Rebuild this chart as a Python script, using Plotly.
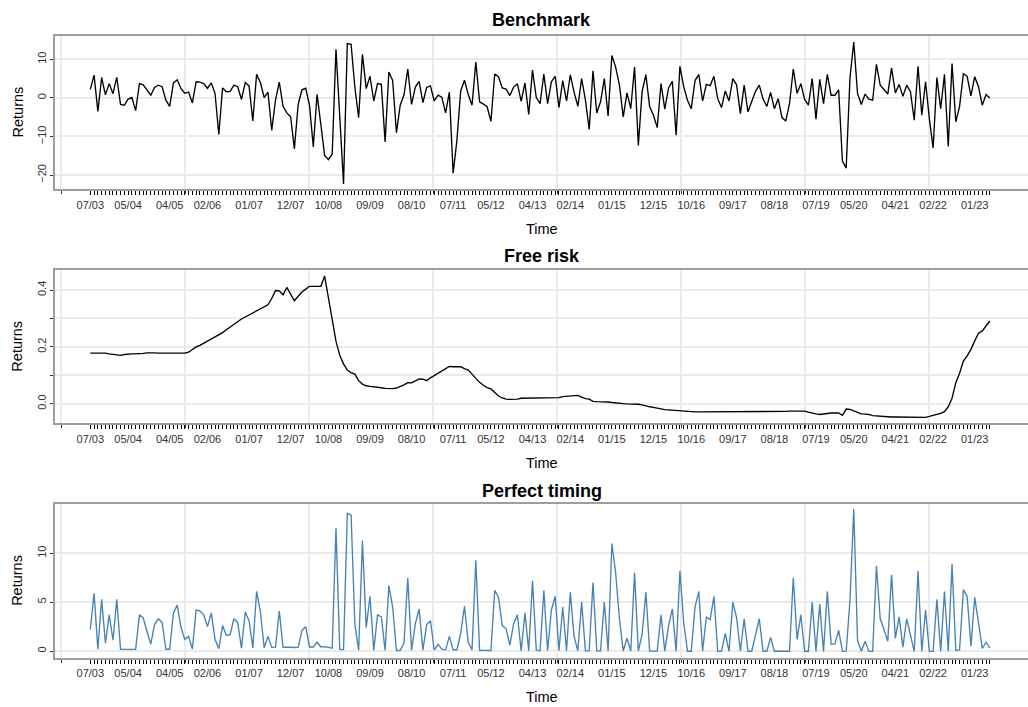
import numpy as np
import pandas as pd
import plotly.graph_objects as go

# Monthly observations, July 2003 to May 2023
months = pd.date_range("2003-07-01", periods=239, freq="MS")
obs = list(range(len(months)))

# Benchmark monthly returns (%)
benchmark = [
    2.2, 5.9, -3.5, 5.3, 0.8, 3.7, 1.1, 5.3, -1.7, -1.9,
    -0.3, 0.1, -3.3, 3.7, 3.4, 2.0, 0.7, 2.7, 3.3, 2.9,
    -0.6, -2.2, 3.9, 4.7, 2.4, 1.2, 1.5, -1.3, 4.2, 4.1,
    3.7, 2.5, 3.9, 1.2, -9.5, 2.6, 1.6, 1.7, 3.3, 2.9,
    -0.4, 4.0, 3.1, -6.0, 6.1, 4.0, 0.1, 1.5, -8.4, -0.6,
    4.1, -2.2, -3.9, -4.9, -13.2, -1.7, 2.1, 2.5, -1.9, -12.7,
    0.9, -6.9, -14.9, -16.0, -14.6, 12.6, -5.0, -22.3, 14.1, 13.9,
    2.7, -5.1, 11.3, 2.4, 5.6, -0.8, 3.7, 3.5, -11.4, 6.7,
    4.5, -9.0, -1.9, 0.8, 7.5, -1.7, 2.8, 4.3, -1.2, 2.7,
    3.1, -0.8, 0.7, 0.2, -3.9, 1.5, -19.5, -11.0, 1.8, 4.6,
    0.9, -1.9, 9.3, -1.0, -1.6, -2.3, -6.1, 6.2, 5.5, 2.6,
    2.3, 0.6, 2.8, 3.7, -0.9, 3.9, -4.3, 7.2, 0.1, -1.5,
    6.2, -1.5, 4.2, 5.6, -2.5, 4.5, -0.8, 6.0, 1.5, -2.2,
    5.0, -0.6, -8.2, 7.0, -3.9, -1.0, 5.0, -4.7, 11.0, 8.0,
    3.3, -4.9, 1.3, -2.8, 8.0, -12.3, 1.7, 6.0, -2.3, -4.5,
    -7.7, 3.7, -2.9, 2.6, 4.3, -9.7, 8.2, 2.9, -0.6, -2.8,
    4.5, 6.1, -0.8, 3.5, 3.2, 5.6, -0.2, -2.5, 1.8, -0.8,
    5.0, 3.4, -4.1, 3.3, -3.6, -1.0, 1.7, 3.3, -0.3, -2.2,
    1.4, -2.8, -0.2, -5.1, -6.0, -1.5, 7.5, 1.2, 3.7, -0.4,
    -1.9, 5.0, -5.5, 4.8, -1.5, 6.1, 0.7, 0.7, 2.1, -16.4,
    -18.2, 5.2, 14.5, 1.1, -1.7, 1.0, -0.3, -0.6, 8.7, 3.3,
    2.2, 1.0, 7.8, 1.3, 3.5, 0.4, 3.3, 1.6, -5.8, 8.2,
    -4.5, 4.2, -5.4, -13.0, 5.3, -2.8, 6.1, -12.6, 8.9, -6.2,
    -2.2, 6.3, 5.6, 0.5, 5.5, 2.9, -1.9, 0.9, 0.0,
]

# Risk-free monthly rate (%)
free_risk = [
    0.178, 0.178, 0.177, 0.179, 0.178, 0.175, 0.173, 0.171, 0.170, 0.173,
    0.175, 0.175, 0.175, 0.175, 0.177, 0.179, 0.180, 0.179, 0.178, 0.178,
    0.178, 0.178, 0.177, 0.177, 0.177, 0.178, 0.181, 0.190, 0.200, 0.205,
    0.212, 0.220, 0.228, 0.235, 0.243, 0.250, 0.260, 0.270, 0.278, 0.290,
    0.298, 0.305, 0.312, 0.318, 0.325, 0.332, 0.340, 0.348, 0.370, 0.398,
    0.397, 0.383, 0.409, 0.385, 0.362, 0.378, 0.393, 0.403, 0.413, 0.413,
    0.413, 0.413, 0.449, 0.370, 0.290, 0.220, 0.170, 0.140, 0.118, 0.109,
    0.104, 0.081, 0.069, 0.063, 0.061, 0.060, 0.059, 0.056, 0.054, 0.053,
    0.053, 0.055, 0.060, 0.066, 0.074, 0.073, 0.080, 0.087, 0.086, 0.081,
    0.091, 0.099, 0.107, 0.116, 0.121, 0.131, 0.130, 0.129, 0.130, 0.123,
    0.118, 0.104, 0.089, 0.075, 0.065, 0.056, 0.052, 0.039, 0.027, 0.020,
    0.016, 0.015, 0.015, 0.016, 0.019, 0.019, 0.019, 0.019, 0.020, 0.020,
    0.020, 0.020, 0.020, 0.020, 0.021, 0.025, 0.026, 0.027, 0.028, 0.029,
    0.023, 0.018, 0.016, 0.008, 0.007, 0.007, 0.007, 0.006, 0.004, 0.002,
    0.001, 0.000, -0.001, -0.001, -0.002, -0.002, -0.004, -0.008, -0.011, -0.013,
    -0.016, -0.020, -0.021, -0.022, -0.023, -0.025, -0.026, -0.027, -0.029, -0.029,
    -0.029, -0.029, -0.029, -0.029, -0.029, -0.029, -0.029, -0.029, -0.029, -0.029,
    -0.029, -0.029, -0.029, -0.029, -0.029, -0.029, -0.029, -0.027, -0.027, -0.027,
    -0.027, -0.027, -0.027, -0.027, -0.027, -0.026, -0.026, -0.026, -0.026, -0.026,
    -0.030, -0.034, -0.036, -0.038, -0.036, -0.033, -0.033, -0.033, -0.033, -0.041,
    -0.019, -0.020, -0.026, -0.032, -0.036, -0.037, -0.038, -0.042, -0.043, -0.046,
    -0.047, -0.047, -0.047, -0.047, -0.047, -0.047, -0.047, -0.047, -0.047, -0.047,
    -0.049, -0.048, -0.045, -0.042, -0.038, -0.034, -0.028, -0.011, 0.019, 0.074,
    0.107, 0.150, 0.168, 0.191, 0.221, 0.248, 0.256, 0.274, 0.291,
]

# Perfect market-timing returns (%)
perfect_timing = [
    2.2, 5.9, 0.177, 5.3, 0.8, 3.7, 1.1, 5.3, 0.170, 0.173,
    0.175, 0.175, 0.175, 3.7, 3.4, 2.0, 0.7, 2.7, 3.3, 2.9,
    0.178, 0.178, 3.9, 4.7, 2.4, 1.2, 1.5, 0.190, 4.2, 4.1,
    3.7, 2.5, 3.9, 1.2, 0.243, 2.6, 1.6, 1.7, 3.3, 2.9,
    0.298, 4.0, 3.1, 0.318, 6.1, 4.0, 0.340, 1.5, 0.370, 0.398,
    4.1, 0.383, 0.409, 0.385, 0.362, 0.378, 2.1, 2.5, 0.413, 0.413,
    0.9, 0.413, 0.449, 0.370, 0.290, 12.6, 0.170, 0.140, 14.1, 13.9,
    2.7, 0.081, 11.3, 2.4, 5.6, 0.060, 3.7, 3.5, 0.054, 6.7,
    4.5, 0.055, 0.060, 0.8, 7.5, 0.073, 2.8, 4.3, 0.086, 2.7,
    3.1, 0.099, 0.7, 0.2, 0.121, 1.5, 0.130, 0.129, 1.8, 4.6,
    0.9, 0.104, 9.3, 0.075, 0.065, 0.056, 0.052, 6.2, 5.5, 2.6,
    2.3, 0.6, 2.8, 3.7, 0.019, 3.9, 0.019, 7.2, 0.1, 0.020,
    6.2, 0.020, 4.2, 5.6, 0.021, 4.5, 0.026, 6.0, 1.5, 0.029,
    5.0, 0.018, 0.016, 7.0, 0.007, 0.007, 5.0, 0.006, 11.0, 8.0,
    3.3, 0.000, 1.3, -0.001, 8.0, -0.002, 1.7, 6.0, -0.011, -0.013,
    -0.016, 3.7, -0.021, 2.6, 4.3, -0.025, 8.2, 2.9, -0.029, -0.029,
    4.5, 6.1, -0.029, 3.5, 3.2, 5.6, -0.029, -0.029, 1.8, -0.029,
    5.0, 3.4, -0.029, 3.3, -0.029, -0.029, 1.7, 3.3, -0.027, -0.027,
    1.4, -0.027, -0.027, -0.027, -0.027, -0.026, 7.5, 1.2, 3.7, -0.026,
    -0.030, 5.0, -0.036, 4.8, -0.036, 6.1, 0.7, 0.7, 2.1, -0.041,
    -0.019, 5.2, 14.5, 1.1, -0.036, 1.0, -0.038, -0.042, 8.7, 3.3,
    2.2, 1.0, 7.8, 1.3, 3.5, 0.4, 3.3, 1.6, -0.047, 8.2,
    -0.049, 4.2, -0.045, -0.042, 5.3, -0.034, 6.1, -0.011, 8.9, 0.074,
    0.107, 6.3, 5.6, 0.5, 5.5, 2.9, 0.256, 0.9, 0.291,
]

# Date labels shown under each panel and the observations they mark
tick_labels = ["07/03", "05/04", "04/05", "02/06", "01/07", "12/07", "10/08",
               "09/09", "08/10", "07/11", "05/12", "04/13", "02/14", "01/15",
               "12/15", "10/16", "09/17", "08/18", "07/19", "05/20", "04/21",
               "02/22", "01/23"]
tick_obs = [0, 10, 21, 31, 42, 53, 63, 74, 85, 96, 106, 117, 127, 138,
            149, 159, 170, 181, 192, 202, 213, 223, 234]

panels = [
    ("Benchmark", benchmark, "black"),
    ("Free risk", free_risk, "black"),
    ("Perfect timing", perfect_timing, "#4682B4"),
]

FONT = "Liberation Sans, Arial, Helvetica, sans-serif"
W, H = 1028, 707
GRID = "#EBEBEB"
BORDER = "#9E9E9E"
TICKFONT = dict(family=FONT, size=11, color="#333333")

# Panel boxes in pixels from the top of the page
panel_px = [(35.7, 189.3), (270.0, 423.3), (504.0, 657.7)]
title_px = [20.5, 255.5, 490.5]
time_px = [228.5, 462.5, 696.5]
y_ranges = [(-23.70, 16.13), (-0.0691, 0.4704), (-0.686, 15.05)]
y_ticks = [
    ([-20, -10, 0, 10], ["\u221220", "\u221210", "0", "10"]),
    ([0.0, 0.1, 0.2, 0.3, 0.4], ["0.0", "", "0.2", "", "0.4"]),
    ([0, 5, 10], ["0", "5", "10"]),
]
x_range = (-9.34, 248.1)
# vertical grid breaks (in observation units)
x_grid = [-7.75 + 32.82 * k for k in range(8)]

label_map = dict(zip(tick_obs, tick_labels))
x_ticktext = [label_map.get(i, "") for i in obs]


def py(px):
    return 1 - px / H


fig = go.Figure()
layout = dict(
    width=W, height=H,
    margin=dict(l=55, r=0, t=0, b=0),
    paper_bgcolor="white", plot_bgcolor="white",
    font=dict(family=FONT, color="black"),
    showlegend=False,
    annotations=[],
)

for k, (name, series, color) in enumerate(panels):
    xa = "x" if k == 0 else f"x{k + 1}"
    ya = "y" if k == 0 else f"y{k + 1}"
    fig.add_trace(go.Scatter(
        x=obs, y=series, mode="lines",
        line=dict(color=color, width=1.35),
        xaxis=xa, yaxis=ya, hoverinfo="skip",
    ))
    top, bot = panel_px[k]
    layout["xaxis" if k == 0 else f"xaxis{k + 1}"] = dict(
        domain=[0, 1], anchor=ya, range=list(x_range),
        showline=True, mirror=True, linecolor=BORDER, linewidth=2,
        tickmode="array", tickvals=obs, ticktext=x_ticktext,
        ticks="outside", ticklen=4, tickwidth=1, tickcolor="black",
        tickfont=TICKFONT, tickangle=0,
        showgrid=False, zeroline=False, automargin=False,
        minor=dict(tickmode="array", tickvals=x_grid, showgrid=True,
                   gridcolor=GRID, gridwidth=1.6, ticks="outside",
                   ticklen=3, tickcolor="#333333"),
    )
    tv, tt = y_ticks[k]
    layout["yaxis" if k == 0 else f"yaxis{k + 1}"] = dict(
        domain=[py(bot), py(top)], anchor=xa, range=list(y_ranges[k]),
        showline=True, mirror=True, linecolor=BORDER, linewidth=2,
        tickmode="array", tickvals=tv, ticktext=tt,
        ticks="outside", ticklen=3, tickwidth=1, tickcolor="#333333",
        tickfont=TICKFONT, tickangle=-90,
        showgrid=True, gridcolor=GRID, gridwidth=1.6,
        zeroline=False, automargin=False,
    )
    layout["annotations"] += [
        dict(text=f"<b>{name}</b>", x=0.5, y=py(title_px[k]), xref="paper",
             yref="paper", xanchor="center", yanchor="middle",
             showarrow=False, font=dict(family=FONT, size=18, color="black")),
        dict(text="Time", x=0.5, y=py(time_px[k]), xref="paper",
             yref="paper", xanchor="center", yanchor="middle",
             showarrow=False, font=dict(family=FONT, size=14.5, color="black")),
        dict(text="Returns", x=(17 - 55) / (W - 55), y=py((top + bot) / 2),
             xref="paper", yref="paper", xanchor="center", yanchor="middle",
             textangle=-90, showarrow=False,
             font=dict(family=FONT, size=14.5, color="black")),
    ]

fig.update_layout(**layout)
fig.write_html("out.html")
